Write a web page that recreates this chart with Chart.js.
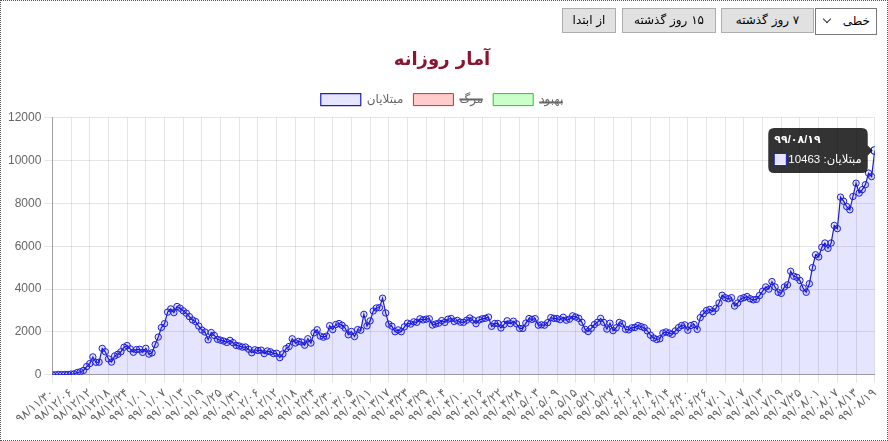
<!DOCTYPE html>
<html lang="fa">
<head>
<meta charset="utf-8">
<script src="https://cdn.jsdelivr.net/npm/chart.js@4.4.1/dist/chart.umd.min.js"></script>
<style>
html,body{margin:0;padding:0;background:#fff;}
#frame{position:relative;width:888px;height:441px;box-sizing:border-box;border:1px dotted #555;overflow:hidden;font-family:'DejaVu Sans',sans-serif;}
.btn{position:absolute;top:7px;height:25px;box-sizing:border-box;background:#e1e1e1;border:1px solid #adadad;font-size:12px;line-height:23px;text-align:center;color:#000;direction:rtl;white-space:nowrap;}
#sel{position:absolute;left:814px;top:7px;width:62px;height:27px;box-sizing:border-box;border:1px solid #7a7a7a;background:#fff;font-size:12px;line-height:25px;direction:rtl;padding-right:6px;color:#000;}
#chev{position:absolute;left:8px;top:7px;width:5px;height:5px;border-right:1px solid #333;border-bottom:1px solid #333;transform:rotate(45deg);}
#wrap{position:absolute;left:0;top:0;direction:rtl;}
canvas{display:block;}
</style>
</head>
<body>
<div id="frame">
  <div id="wrap"><canvas id="c" width="886" height="439"></canvas></div>
  <div id="sel">خطی<span id="chev"></span></div>
  <div class="btn" style="left:720px;width:93px;">۷ روز گذشته</div>
  <div class="btn" style="left:621px;width:94px;">۱۵ روز گذشته</div>
  <div class="btn" style="left:561px;width:54px;">از ابتدا</div>
</div>
<script>
// daily new cases (مبتلایان), grouped by month of the source period
const casesFeb = [2,3,13,10,15,18,34,44,106,143,205];
const casesMar = [385,523,835,586,591,1234,1076,743,595,881,958,1075,1289,1365,1209,1053,1178,1192,1046,1237,966,1028,1411,1762,2206,2389,2926,3076,2901,3186,3110];
const casesApr = [2987,2875,2715,2560,2483,2274,2089,1997,1634,1972,1837,1657,1617,1574,1512,1606,1499,1374,1343,1294,1297,1194,1030,1168,1134,1153,991,1112,1073,993];
const casesMay = [1006,802,976,1223,1323,1680,1485,1556,1529,1383,1683,1481,1958,2102,1808,1757,1806,2294,2111,2346,2392,2311,2180,1869,2023,1787,2111,2080,2819,2282,2516];
const casesJun = [2979,3117,3134,3574,2886,2364,2269,2011,2095,2011,2238,2410,2369,2472,2449,2612,2563,2596,2615,2322,2368,2410,2531,2445,2595,2628,2489,2536,2457,2449];
const casesJul = [2549,2652,2560,2388,2560,2613,2637,2691,2262,2397,2397,2186,2349,2521,2388,2500,2379,2166,2166,2414,2625,2586,2621,2316,2333,2316,2434,2667,2636,2621,2574];
const casesAug = [2685,2548,2598,2751,2697,2634,2450,2125,2020,2167,2345,2450,2634,2444,2133,2407,2061,2193,2444,2385,2125,2100,2191,2211,2300,2250,2200,2050,1850,1720,1650];
const casesSep = [1680,1950,2000,1950,1890,2050,2200,2300,2330,2080,2300,2350,2120,2670,2850,3000,3050,2950,3100,3350,3712,3600,3550,3600,3210,3350,3550,3600,3650,3550];
const casesOct = [3500,3520,3700,3900,4100,4000,4350,4100,3850,3800,4100,4200,4830,4600,4550,4400,4050,3850,4250,5000,5600,5500,5950,6150,5900,6150,6968,6820,8290,8100,7850];
const casesNov = [7700,8320,8940,8480,8640,8870,9410,9250,10463];
const cases = [].concat(casesFeb,casesMar,casesApr,casesMay,casesJun,casesJul,casesAug,casesSep,casesOct,casesNov);

// hidden series (values not visible in the chart)
const deaths = [];
const recovered = [];

const seriesNames = ['مبتلایان','مرگ','بهبود'];
const chartTitle = 'آمار روزانه';
const yTicks = {min:0, max:12000, step:2000};
const labelEvery = 6;

// Solar Hijri dates: start 98/11/30, month lengths per year
const startDate = {y:98, m:11, d:30};
const monthLen = {98:[31,31,31,31,31,31,30,30,30,30,30,29], 99:[31,31,31,31,31,31,30,30,30,30,30,30]};
const faDigits = '۰۱۲۳۴۵۶۷۸۹';
function fa(s){return String(s).replace(/[0-9]/g,d=>faDigits[+d]);}
function pad(n){return n<10?'0'+n:''+n;}
const categories = [];
(function(){
  let y=startDate.y,m=startDate.m,d=startDate.d;
  for(let i=0;i<cases.length;i++){
    categories.push(fa(y+'/'+pad(m)+'/'+pad(d)));
    d++;
    if(d>monthLen[y][m-1]){d=1;m++; if(m>12){m=1;y++;}}
  }
})();
const casePoints = cases.map((v,i)=>({x:i,y:v}));

Chart.defaults.font.family = "'Liberation Sans','DejaVu Sans',sans-serif";
Chart.defaults.font.size = 12;
Chart.defaults.color = '#666';

const legendGap = {
  id:'legendGap',
  beforeUpdate(chart){
    const lg = chart.legend;
    if(lg && !lg._gapPatched){
      const f = lg.fit.bind(lg);
      lg.fit = function(){ f(); this.height += 2; };
      lg._gapPatched = true;
    }
  }
};

const gridCol = 'rgba(0,0,0,0.1)';
const chart = new Chart(document.getElementById('c'), {
  type:'line',
  data:{
    datasets:[
      {label:seriesNames[0], data:casePoints, fill:true, backgroundColor:'rgba(0,0,255,0.1)', borderColor:'rgb(28,28,200)', borderWidth:1.2,
       pointRadius:3.2, pointBorderWidth:1, pointBackgroundColor:'rgba(0,0,255,0.1)', pointBorderColor:'rgb(28,28,220)',
       pointHoverRadius:4, pointHoverBorderWidth:1, tension:0},
      {label:seriesNames[1], data:deaths, hidden:true, backgroundColor:'rgba(255,0,0,0.2)', borderColor:'rgb(220,40,40)', borderWidth:1},
      {label:seriesNames[2], data:recovered, hidden:true, backgroundColor:'rgba(0,255,0,0.2)', borderColor:'rgb(40,200,40)', borderWidth:1}
    ]
  },
  plugins:[legendGap],
  options:{
    responsive:false, animation:false, events:[],
    layout:{padding:{top:39,left:4,right:8,bottom:11}},
    plugins:{
      title:{display:true, text:chartTitle, color:'#8b1530', font:{size:18, weight:'bold', family:"'DejaVu Sans',sans-serif"}, padding:{top:10,bottom:12}},
      legend:{labels:{boxWidth:40, boxHeight:12, color:'#666', font:{size:12}, padding:10}},
      tooltip:{
        backgroundColor:'rgba(0,0,0,0.8)', titleFont:{size:11,weight:'bold',lineHeight:1}, bodyFont:{size:11.5,lineHeight:1.3},
        padding:6, cornerRadius:6, caretSize:5, boxPadding:0, titleMarginBottom:7, boxWidth:12, boxHeight:12,
        callbacks:{
          title:(items)=>categories[items[0].dataIndex],
          label:(c)=>c.dataset.label+': '+c.parsed.y
        }
      }
    },
    scales:{
      x:{
        type:'linear', min:0, max:cases.length-1,
        grid:{color:gridCol, tickLength:8},
        border:{color:'rgba(0,0,0,0.3)'},
        ticks:{stepSize:labelEvery, autoSkip:false, maxRotation:40, minRotation:40, font:{size:12},
          callback:(v)=>categories[v]}
      },
      y:{
        min:yTicks.min, max:yTicks.max,
        grid:{color:gridCol, tickLength:8},
        border:{color:'rgba(0,0,0,0.3)'},
        ticks:{stepSize:yTicks.step, font:{size:12}, callback:(v)=>String(v)}
      }
    }
  }
});
const last = cases.length-1;
chart.setActiveElements([{datasetIndex:0,index:last}]);
chart.tooltip.setActiveElements([{datasetIndex:0,index:last}],{x:0,y:0});
chart.update();
</script>
</body>
</html>
